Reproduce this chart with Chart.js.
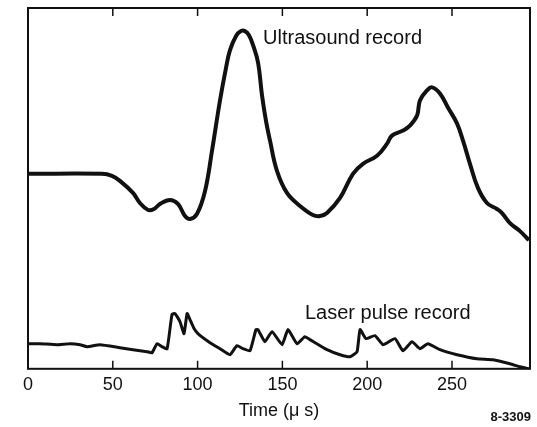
<!DOCTYPE html>
<html>
<head>
<meta charset="utf-8">
<script src="https://cdn.jsdelivr.net/npm/chart.js@4/dist/chart.umd.min.js"></script>
<style>
    html, body { margin: 0; padding: 0; background: #ffffff; }
    #wrap { width: 537px; height: 427px; position: relative; }
</style>
</head>
<body>
<div id="wrap"><canvas id="chart"></canvas></div>
<script>
// Time axis (microseconds) and the two traces (arbitrary amplitude units)
const ultrasoundTime = [0, 43.6, 49.5, 54.2, 61.9, 66.0, 70.8, 74.3, 77.8, 83.7, 88.4, 92.6, 95.5, 99.6, 104.4, 108.5, 113.2, 116.7, 119.1, 122.6, 125.6, 127.9, 130.3, 132.7, 135.6, 138.0, 140.3, 142.7, 146.8, 152.7, 160.4, 168.0, 172.2, 176.3, 184.0, 191.6, 197.5, 205.8, 211.7, 214.6, 221.1, 225.2, 229.4, 231.1, 235.3, 238.2, 242.9, 247.6, 253.0, 256.5, 260.6, 265.3, 270.6, 276.5, 279.5, 284.2, 290.1, 295.4];
const ultrasoundValues = [194, 194, 192, 187, 175, 165, 158, 159, 164, 168, 164, 152, 149, 154, 177, 217, 267, 299, 317, 331, 336, 336, 332, 322, 305, 272, 247, 227, 197, 175, 162, 153, 152, 155, 170, 194, 204, 212, 224, 232, 237, 242, 252, 267, 277, 280, 274, 260, 244, 227, 204, 180, 165, 159, 155, 145, 137, 128];

const laserTime = [0, 7.1, 17.1, 24.8, 30.7, 34.8, 42.5, 54.2, 61.9, 70.2, 73.1, 76.1, 79.0, 82.0, 84.9, 86.7, 89.6, 92.0, 93.8, 95.5, 97.9, 100.2, 107.3, 113.2, 119.1, 123.2, 126.8, 130.9, 134.4, 135.6, 139.7, 143.9, 149.8, 153.3, 158.6, 163.3, 166.3, 176.3, 184.0, 189.9, 194.0, 195.8, 199.3, 204.6, 209.3, 216.4, 221.1, 226.4, 231.1, 235.8, 242.9, 253.0, 264.7, 274.2, 284.2, 290.1, 295.4];
const laserValues = [25, 25, 24, 25, 24, 22, 24, 21, 19, 17, 16, 25, 22, 20, 54, 55, 47, 35, 55, 49, 40, 35, 26, 20, 14, 23, 20, 18, 39, 39, 27, 37, 24, 39, 25, 32, 29, 19, 14, 12, 17, 39, 30, 33, 24, 30, 18, 27, 20, 25, 19, 14, 10, 9, 5, 2, 0];

const timeTicks = [0, 50, 100, 150, 200, 250];

const ultrasoundLabel = 'Ultrasound record';
const laserLabel = 'Laser pulse record';
const figureId = '8-3309';

const ink = '#111111';

const toPoints = (xs, ys) => xs.map((x, i) => ({ x: x, y: ys[i] }));

// Frame, inward ticks and in-plot labels
const framePlugin = {
    id: 'frame',
    afterDraw(chart) {
        const { ctx, chartArea: a, scales } = chart;
        const xs = scales.x;
        const ys = scales.y;
        ctx.save();
        ctx.strokeStyle = ink;
        ctx.lineWidth = 2;
        ctx.strokeRect(a.left, a.top, a.right - a.left, a.bottom - a.top);

        // tick marks pointing into the plot, top and bottom
        ctx.lineWidth = 1.5;
        timeTicks.forEach((t) => {
            if (t === 0) return;
            const px = xs.getPixelForValue(t);
            ctx.beginPath();
            ctx.moveTo(px, a.bottom);
            ctx.lineTo(px, a.bottom - 8);
            ctx.moveTo(px, a.top);
            ctx.lineTo(px, a.top + 8);
            ctx.stroke();
        });

        ctx.fillStyle = ink;
        ctx.font = '20px "Liberation Sans", Arial, sans-serif';
        ctx.textAlign = 'left';
        ctx.textBaseline = 'alphabetic';
        ctx.fillText(ultrasoundLabel, xs.getPixelForValue(138.6), ys.getPixelForValue(323));
        ctx.fillText(laserLabel, xs.getPixelForValue(163.3), ys.getPixelForValue(50));

        ctx.font = 'bold 13px "Liberation Sans", Arial, sans-serif';
        ctx.textAlign = 'right';
        ctx.fillText(figureId, chart.width - 6, chart.height - 6);
        ctx.restore();
    }
};

new Chart(document.getElementById('chart'), {
    type: 'line',
    plugins: [framePlugin],
    data: {
        datasets: [
            {
                label: ultrasoundLabel,
                data: toPoints(ultrasoundTime, ultrasoundValues),
                borderColor: ink,
                borderWidth: 4,
                pointRadius: 0,
                tension: 0.4,
                fill: false
            },
            {
                label: laserLabel,
                data: toPoints(laserTime, laserValues),
                borderColor: ink,
                borderWidth: 3,
                pointRadius: 0,
                tension: 0.15,
                fill: false
            }
        ]
    },
    options: {
        responsive: true,
        maintainAspectRatio: false,
        animation: false,
        layout: { padding: { left: 28, right: 7, top: 8, bottom: 5 } },
        plugins: {
            legend: { display: false },
            tooltip: { enabled: false }
        },
        scales: {
            x: {
                type: 'linear',
                min: 0,
                max: 296,
                grid: { display: false, drawTicks: false },
                border: { display: false },
                afterBuildTicks: (scale) => {
                    scale.ticks = timeTicks.map((v) => ({ value: v }));
                },
                ticks: {
                    color: ink,
                    padding: 5,
                    maxRotation: 0,
                    autoSkip: false,
                    font: { family: '"Liberation Sans", Arial, sans-serif', size: 18 }
                },
                title: {
                    display: true,
                    text: 'Time (\u03bc s)',
                    color: ink,
                    padding: { top: 0, bottom: 0 },
                    font: { family: '"Liberation Sans", Arial, sans-serif', size: 18 }
                }
            },
            y: {
                display: false,
                min: 0,
                max: 359
            }
        }
    }
});
</script>
</body>
</html>
